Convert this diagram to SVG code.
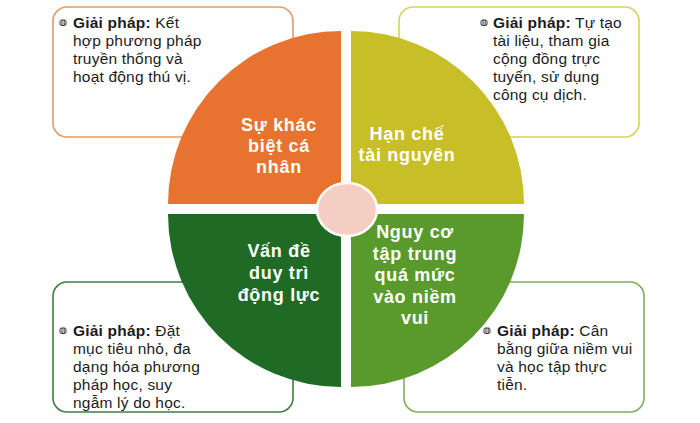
<svg xmlns="http://www.w3.org/2000/svg" width="700" height="423" viewBox="0 0 700 423">
<style>
.box{fill:#ffffff;stroke-width:1.6}
.t{font-family:"Liberation Sans",Arial,sans-serif;font-size:15.5px;letter-spacing:0.2px;fill:#1c1c1c}
.t .b{font-weight:bold}
.q{font-family:"Liberation Sans",Arial,sans-serif;font-size:18px;font-weight:bold;letter-spacing:0.7px;fill:#ffffff;text-anchor:middle}
.bul{fill:none;stroke:#333;stroke-width:1}
</style>
<defs>
<g id="bullet"><rect x="-3" y="-3" width="6" height="5.5" rx="1.5" class="bul"/><line x1="-1" y1="-3" x2="-1" y2="2.5" class="bul"/><line x1="1.2" y1="-3" x2="1.2" y2="2.5" class="bul"/></g>
</defs>
<rect width="700" height="423" fill="#ffffff"/>
<g id="box-tl">
<rect class="box" x="53" y="7" width="240" height="130" rx="14" stroke="#E79A62"/>
<use href="#bullet" x="63" y="23"/>
<text class="t" x="73" y="28"><tspan class="b">Giải pháp:</tspan> Kết</text>
<text class="t" x="73" y="46">hợp phương pháp</text>
<text class="t" x="73" y="64">truyền thống và</text>
<text class="t" x="73" y="82">hoạt động thú vị.</text>
</g>
<g id="box-tr">
<rect class="box" x="399" y="7" width="240" height="130" rx="14" stroke="#D6D15C"/>
<use href="#bullet" x="484" y="23"/>
<text class="t" x="493" y="28"><tspan class="b">Giải pháp:</tspan> Tự tạo</text>
<text class="t" x="493" y="46">tài liệu, tham gia</text>
<text class="t" x="493" y="64">cộng đồng trực</text>
<text class="t" x="493" y="82">tuyến, sử dụng</text>
<text class="t" x="493" y="100">công cụ dịch.</text>
</g>
<g id="box-bl">
<rect class="box" x="53" y="282" width="240" height="130" rx="14" stroke="#3F7E3F"/>
<use href="#bullet" x="63" y="331"/>
<text class="t" x="73" y="336"><tspan class="b">Giải pháp:</tspan> Đặt</text>
<text class="t" x="73" y="354">mục tiêu nhỏ, đa</text>
<text class="t" x="73" y="372">dạng hóa phương</text>
<text class="t" x="73" y="390">pháp học, suy</text>
<text class="t" x="73" y="408">ngẫm lý do học.</text>
</g>
<g id="box-br">
<rect class="box" x="404" y="282" width="240" height="130" rx="14" stroke="#7EAE5B"/>
<use href="#bullet" x="487" y="331"/>
<text class="t" x="497" y="336"><tspan class="b">Giải pháp:</tspan> Cân</text>
<text class="t" x="497" y="354">bằng giữa niềm vui</text>
<text class="t" x="497" y="372">và học tập thực</text>
<text class="t" x="497" y="390">tiễn.</text>
</g>
<g id="q-tl">
<path d="M341,204 L168,204 A173,173 0 0 1 341,31 Z" fill="#E8722F"/>
<text class="q" x="279" y="131">Sự khác</text>
<text class="q" x="279" y="152">biệt cá</text>
<text class="q" x="279" y="173">nhân</text>
</g>
<g id="q-tr">
<path d="M351,204 L351,31 A173,173 0 0 1 524,204 Z" fill="#C8BF28"/>
<text class="q" x="407" y="140">Hạn chế</text>
<text class="q" x="407" y="161">tài nguyên</text>
</g>
<g id="q-bl">
<path d="M341,214 L341,387 A173,173 0 0 1 168,214 Z" fill="#1F6B26"/>
<text class="q" x="279" y="257">Vấn đề</text>
<text class="q" x="279" y="279">duy trì</text>
<text class="q" x="279" y="301">động lực</text>
</g>
<g id="q-br">
<path d="M351,214 L524,214 A173,173 0 0 1 351,387 Z" fill="#5A9A2C"/>
<text class="q" x="415" y="238">Nguy cơ</text>
<text class="q" x="415" y="260">tập trung</text>
<text class="q" x="415" y="281">quá mức</text>
<text class="q" x="415" y="303">vào niềm</text>
<text class="q" x="415" y="324">vui</text>
</g>
<g id="center">
<ellipse cx="347" cy="209.5" rx="30" ry="26.5" fill="#F5CEC3" stroke="#ffffff" stroke-width="2.5"/>
</g>
<g id="connectors"></g>
</svg>
